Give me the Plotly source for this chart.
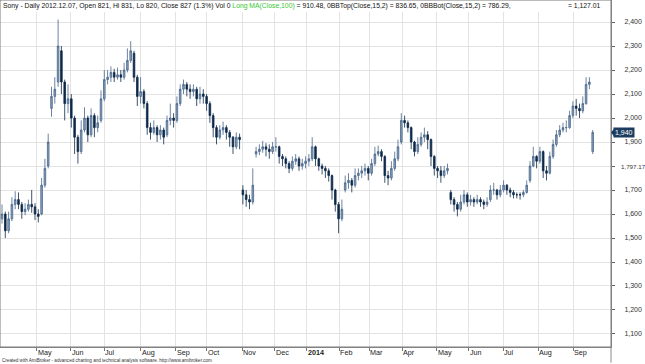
import plotly.graph_objects as go

# ---- data ----
opens = [
1580,1600,1530,1580,1640,1660,1640,1610,1620,1640,
1630,1600,1600,1720,1800,2040,2090,2150,2280,2150,
2060,2080,2000,1920,1860,1950,2000,1930,2010,1960,
1990,2080,2160,2170,2190,2170,2180,2170,2200,2240,
2270,2170,2090,2110,2060,1960,1940,1960,1930,1950,
1930,1990,2000,1990,2060,2120,2140,2120,2110,2120,
2080,2100,2090,2060,2010,1960,1920,1950,1960,1940,
1920,1880,1920,1700,1680,1660,1650,1850,1860,1870,
1880,1870,1860,1880,1880,1840,1830,1810,1790,1820,
1830,1800,1810,1820,1830,1880,1830,1800,1790,1780,
1760,1700,1640,1580,1700,1730,1740,1720,1760,1770,
1780,1790,1770,1810,1850,1860,1840,1760,1750,1790,
1830,1900,1990,1980,1960,1900,1860,1890,1920,1930,
1910,1840,1790,1780,1760,1780,1690,1660,1640,1620,
1650,1680,1650,1660,1650,1660,1650,1640,1660,1700,
1700,1680,1700,1720,1700,1690,1680,1680,1680,1690,
1740,1800,1840,1820,1860,1780,1770,1840,1890,1930,
1950,1960,1960,2010,2050,2040,2030,2060,2140,1860]

closes = [
1600,1530,1580,1640,1660,1640,1610,1620,1640,1630,
1600,1590,1720,1790,1900,2090,2120,2300,2150,2060,
2080,2000,1920,1860,1950,2000,1930,2010,1960,1980,
2080,2160,2170,2190,2170,2180,2170,2200,2240,2280,
2170,2090,2110,2060,1960,1940,1960,1930,1950,1920,
1990,2000,1990,2060,2120,2140,2120,2110,2120,2080,
2100,2090,2060,2010,1960,1920,1950,1960,1940,1920,
1880,1920,1910,1680,1660,1650,1720,1860,1870,1880,
1870,1860,1880,1880,1840,1830,1810,1790,1820,1830,
1800,1810,1820,1830,1880,1830,1800,1790,1780,1760,
1700,1640,1580,1620,1730,1740,1720,1760,1770,1780,
1790,1770,1810,1850,1860,1840,1760,1750,1790,1830,
1880,1990,1980,1960,1900,1860,1890,1920,1930,1910,
1840,1790,1780,1760,1780,1790,1660,1640,1620,1650,
1680,1650,1660,1650,1660,1650,1640,1650,1700,1700,
1680,1700,1720,1700,1690,1680,1680,1680,1690,1720,
1800,1840,1820,1860,1780,1770,1840,1890,1930,1950,
1960,1960,2010,2050,2040,2030,2060,2140,2150,1940]

highs = [
1640,1610,1610,1670,1695,1690,1650,1645,1660,1700,
1645,1620,1750,1830,1935,2130,2170,2410,2300,2160,
2140,2100,2010,1930,1990,2045,2010,2040,2020,2010,
2115,2200,2200,2215,2205,2210,2200,2230,2290,2320,
2280,2180,2170,2120,2070,1980,1990,1970,1970,1960,
2010,2060,2020,2090,2140,2160,2150,2140,2140,2130,
2130,2120,2100,2070,2020,1970,1970,1985,1970,1950,
1925,1940,1935,1720,1700,1680,1790,1880,1890,1905,
1895,1890,1900,1920,1885,1850,1840,1820,1840,1850,
1840,1830,1840,1850,1920,1885,1835,1810,1800,1790,
1765,1705,1650,1660,1760,1770,1750,1790,1790,1800,
1810,1800,1830,1880,1885,1870,1845,1780,1820,1860,
1910,2020,2010,1990,1965,1905,1920,1940,1960,1945,
1915,1845,1800,1800,1800,1810,1700,1670,1650,1680,
1700,1690,1680,1670,1680,1670,1660,1670,1720,1730,
1705,1720,1740,1725,1710,1700,1690,1690,1700,1740,
1820,1880,1845,1880,1865,1800,1860,1910,1950,1970,
1980,1990,2030,2070,2080,2060,2090,2170,2170,1950]

lows = [
1560,1500,1520,1570,1620,1620,1580,1595,1610,1605,
1575,1565,1595,1710,1790,2005,2060,2130,2100,1990,
2020,1960,1850,1810,1850,1940,1900,1920,1920,1940,
1980,2070,2140,2150,2150,2160,2150,2160,2190,2230,
2150,2050,2060,2040,1930,1910,1930,1900,1910,1890,
1920,1970,1960,1980,2050,2100,2090,2080,2090,2050,
2060,2060,2030,1980,1920,1890,1910,1930,1910,1880,
1850,1870,1870,1640,1630,1620,1640,1835,1845,1855,
1840,1830,1850,1860,1810,1800,1790,1770,1780,1805,
1780,1785,1790,1800,1820,1800,1780,1765,1750,1735,
1660,1610,1520,1570,1690,1705,1690,1710,1740,1750,
1760,1740,1760,1800,1840,1820,1730,1720,1740,1780,
1820,1890,1960,1940,1870,1840,1850,1880,1900,1870,
1800,1760,1750,1730,1750,1765,1640,1610,1590,1610,
1640,1630,1635,1630,1640,1630,1620,1630,1650,1680,
1660,1670,1690,1680,1670,1665,1665,1660,1670,1685,
1730,1795,1790,1810,1750,1740,1765,1830,1880,1920,
1940,1940,1955,2000,2010,2000,2020,2055,2120,1850]

month_labels = ["May", "Jun", "Jul", "Aug", "Sep", "Oct", "Nov", "Dec", "<b>2014</b>",
                "Feb", "Mar", "Apr", "May", "Jun", "Jul", "Aug", "Sep"]
# month boundaries, in bar-index units
month_pos = [10.5, 20.9, 31.0, 42.0, 52.6, 62.0, 72.8, 82.7, 92.3,
             102.2, 111.3, 121.3, 131.7, 141.5, 151.9, 162.5, 173.1]

price_ticks = [1100, 1200, 1300, 1400, 1500, 1600, 1700, 1800, 1900, 2000, 2100, 2200, 2300, 2400]
# the 1,800 label is hidden behind the moving-average value label in the reference
price_tick_text = ["1,100", "1,200", "1,300", "1,400", "1,500", "1,600", "1,700", "",
                   "1,900", "2,000", "2,100", "2,200", "2,300", "2,400"]
last_close = 1940
ma_value = 1797.17

x = list(range(len(closes)))

fig = go.Figure()
fig.add_trace(go.Candlestick(
    x=x, open=opens, high=highs, low=lows, close=closes,
    increasing=dict(line=dict(color="#46648a", width=0.8), fillcolor="#8aa1ba"),
    decreasing=dict(line=dict(color="#0e2a49", width=0.8), fillcolor="#0e2a49"),
    whiskerwidth=0, hoverinfo="skip",
))

grid = "#e3e3e3"
fig.update_layout(
    width=645, height=364,
    margin=dict(l=0, r=34, t=0, b=17, pad=0),
    paper_bgcolor="white", plot_bgcolor="white",
    showlegend=False,
    font=dict(family="Liberation Sans, Arial, sans-serif", size=7, color="#333"),
    xaxis=dict(
        range=[-0.606, 184.55], tickvals=month_pos, showticklabels=False,
        ticks="outside", ticklen=3, tickcolor="#777",
        showgrid=True, gridcolor=grid, gridwidth=1, zeroline=False,
        showline=True, linecolor="#8a8a8a", linewidth=1,
        rangeslider=dict(visible=False), fixedrange=True, automargin=False,
    ),
    yaxis=dict(
        side="right", range=[1045.8, 2491.7], tickvals=price_ticks, ticktext=price_tick_text,
        ticks="outside", ticklen=3, tickcolor="#666",
        showgrid=True, gridcolor=grid, gridwidth=1, zeroline=False,
        showline=True, linecolor="#8a8a8a", linewidth=1,
        tickfont=dict(size=7, color="#333"), automargin=False,
        ticklabelstandoff=8, fixedrange=True,
    ),
)

band = 12 / 347.0
fig.add_shape(type="rect", xref="paper", yref="paper", x0=0, x1=1, y0=1 - band, y1=1,
              fillcolor="white", line=dict(width=0), layer="above")
fig.add_shape(type="rect", xref="paper", yref="paper", x0=0, x1=1, y0=0, y1=1,
              fillcolor="rgba(0,0,0,0)", line=dict(color="#7a7a7a", width=1), layer="above")
fig.add_shape(type="line", xref="paper", yref="paper", x0=1, x1=1, y0=0, y1=-0.045,
              line=dict(color="#8a8a8a", width=1), layer="above")

# title line
fig.add_annotation(
    xref="paper", yref="paper", x=0, y=1, xanchor="left", yanchor="top", xshift=1, yshift=0,
    showarrow=False, font=dict(size=6.8, color="#111"), align="left",
    text=("Sony - Daily 2012.12.07, Open 821, Hi 831, Lo 820, Close 827 (1.3%) Vol 0 "
          "<span style='color:#35c735'>Long MA(Close,100)</span> = 910.48, "
          "0BBTop(Close,15,2) = 836.65, 0BBBot(Close,15,2) = 786.29,"),
)
fig.add_annotation(xref="paper", yref="paper", x=603 / 611, y=1, xanchor="right", yanchor="top",
                   showarrow=False, font=dict(size=6.8, color="#111"), text="= 1,127.01")

# month labels
for lab, pos in zip(month_labels, month_pos):
    fig.add_annotation(xref="x", yref="paper", x=pos, y=0, xanchor="left", yanchor="top",
                       xshift=0, yshift=0, borderpad=0, showarrow=False,
                       font=dict(size=7.2, color="#222"), text=lab)

# footer
fig.add_annotation(xref="paper", yref="paper", x=0, y=0, xanchor="left", yanchor="top",
                   xshift=1, yshift=-10, borderpad=0, showarrow=False, font=dict(size=4.6, color="#333"),
                   text="Created with AmiBroker - advanced charting and technical analysis software. http://www.amibroker.com")

# last price marker
fig.add_annotation(xref="paper", yref="y", x=1, y=last_close, xanchor="left", yanchor="middle",
                   xshift=2, showarrow=False, bgcolor="#1c3d60", borderpad=1,
                   font=dict(size=7, color="white"), text=f"{last_close:,}")
fig.add_shape(type="path", xref="paper", yref="y", xsizemode="pixel", ysizemode="pixel",
              xanchor=1, yanchor=last_close, path="M 0,0 L 4,-5 L 4,5 Z",
              fillcolor="#1c3d60", line=dict(width=0), layer="above")
# moving-average value label
fig.add_annotation(xref="paper", yref="y", x=1, y=ma_value, xanchor="left", yanchor="middle",
                   xshift=8, showarrow=False, font=dict(size=6.2, color="#333"), text=f"{ma_value:,.2f}")

fig.write_html("out.html", config={"displayModeBar": False, "staticPlot": True},
               post_script="document.body.style.margin='0';document.body.style.overflow='hidden';")
